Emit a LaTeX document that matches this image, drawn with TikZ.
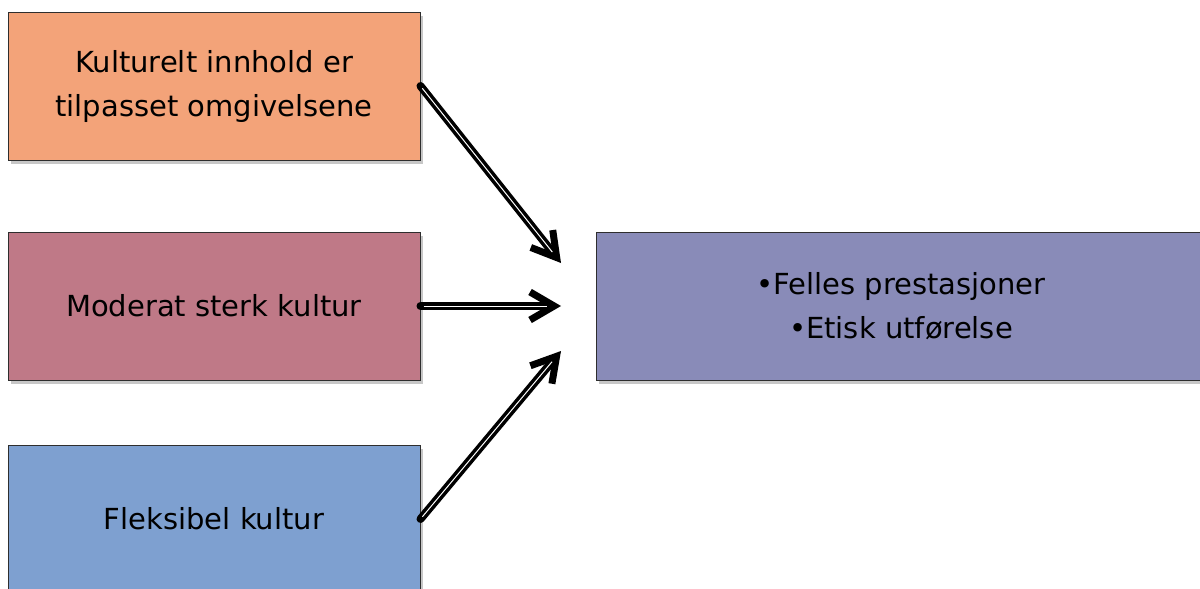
\documentclass[tikz,border=0pt]{standalone}
\usepackage{fontspec}
\setmainfont{DejaVu Sans}
\usetikzlibrary{arrows.meta,shadows,positioning}
\definecolor{cOrange}{HTML}{F3A379}
\definecolor{cMauve}{HTML}{BF7987}
\definecolor{cBlue}{HTML}{7EA0D0}
\definecolor{cPurple}{HTML}{898BB8}
\definecolor{cBorder}{HTML}{2E2E2E}
\tikzset{
  box/.style={draw=cBorder, line width=1pt, minimum width=412pt, minimum height=148pt,
    inner sep=0pt, align=center, font=\fontsize{29}{44}\selectfont,
    drop shadow={shadow xshift=2.5pt, shadow yshift=-3.5pt, opacity=0.22, fill=black}},
  conn/.style={line width=8pt, black, line cap=round, line join=round,
    -{Straight Barb[length=24pt, width=28pt, line width=7pt]}},
  inner/.style={white, line width=1pt},
}
\begin{document}
\begin{tikzpicture}[x=1pt,y=-1pt]
\useasboundingbox (0,0) rectangle (1200,589);
\node[box, fill=cOrange] (k1) at (214,86) {Kulturelt innhold er\\tilpasset omgivelsene};
\node[box, fill=cMauve] (k2) at (214,306) {Moderat sterk kultur};
\node[box, fill=cBlue] (k3) at (214,519) {Fleksibel kultur};
\node[box, fill=cPurple, minimum width=610pt] (r) at (901,306) {•Felles prestasjoner\\•Etisk utførelse};
\coordinate (t1) at (561,263);
\coordinate (t2) at (561,306);
\coordinate (t3) at (561,351);
\draw[conn] (k1.east) -- (t1);
\draw[conn] (k2.east) -- (t2);
\draw[conn] (k3.east) -- (t3);
\draw[inner, shorten <=3pt, shorten >=14pt] (k1.east) -- (t1);
\draw[inner, shorten <=3pt, shorten >=14pt] (k2.east) -- (t2);
\draw[inner, shorten <=3pt, shorten >=14pt] (k3.east) -- (t3);
\end{tikzpicture}
\end{document}
